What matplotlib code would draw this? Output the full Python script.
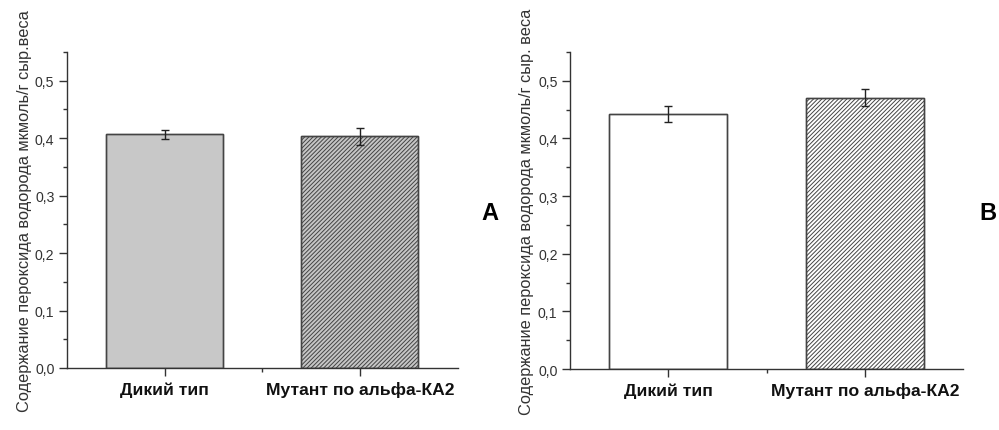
import numpy as np
import matplotlib.pyplot as plt
from matplotlib.ticker import MultipleLocator, FuncFormatter

plt.rcParams['font.family'] = ['Liberation Sans', 'DejaVu Sans']
plt.rcParams['hatch.linewidth'] = 0.7

categories = ["Дикий тип", "Мутант по альфа-КА2"]

# panel A
vals_a = [0.407, 0.403]
err_a = [0.008, 0.015]
# panel B
vals_b = [0.442, 0.471]
err_b = [0.014, 0.0145]

ylabels = ["Содержание пероксида водорода мкмоль/г сыр.веса",
           "Содержание пероксида водорода мкмоль/г сыр. веса"]
panel_names = ["A", "B"]

fig = plt.figure(figsize=(9.99, 4.31), dpi=100)
ax_a = fig.add_axes([0.067, 0.1439, 0.391, 0.733])
ax_b = fig.add_axes([0.5706, 0.1415, 0.3934, 0.7355])

styles = [
    [dict(facecolor="#c8c8c8", hatch=None, hc="#555555"),
     dict(facecolor="#c6c6c6", hatch="////////", hc="#777777")],
    [dict(facecolor="white", hatch=None, hc="#555555"),
     dict(facecolor="white", hatch="////////", hc="#8e8e8e")],
]
label_x = [-0.09, -0.092]

x = np.array([1, 2])
for i, (ax, vals, errs) in enumerate([(ax_a, vals_a, err_a), (ax_b, vals_b, err_b)]):
    for j in range(2):
        st = styles[i][j]
        plt.rcParams['hatch.color'] = st["hc"]
        ax.bar(x[j], vals[j], width=0.6, color=st["facecolor"], edgecolor="#444444",
               linewidth=1.0, hatch=st["hatch"], zorder=2)
        # redraw edge so hatch colour does not tint it
        ax.bar(x[j], vals[j], width=0.6, fill=False, edgecolor="#444444",
               linewidth=1.0, zorder=3)
    ax.errorbar(x, vals, yerr=errs, fmt="none", ecolor="#222222", elinewidth=1.0,
                capsize=3, capthick=1.0, zorder=4)
    ax.set_xlim(0.5, 2.5)
    ax.set_ylim(0, 0.55)
    ax.spines["top"].set_visible(False)
    ax.spines["right"].set_visible(False)
    for s in ["left", "bottom"]:
        ax.spines[s].set_color("#333333")
        ax.spines[s].set_linewidth(1.0)
    ax.yaxis.set_major_locator(MultipleLocator(0.1))
    ax.yaxis.set_minor_locator(MultipleLocator(0.05))
    ax.yaxis.set_major_formatter(FuncFormatter(lambda v, p: f"{v:.1f}".replace(".", ",")))
    ax.set_xticks(x)
    ax.set_xticks([1.5], minor=True)
    ax.set_xticklabels(categories, fontweight="bold", fontsize=12.6, color="#111111",
                       va="baseline")
    ax.tick_params(axis="both", which="major", direction="out", length=6, width=1.0,
                   color="#333333", labelcolor="#333333")
    ax.tick_params(axis="x", which="major", labelcolor="#111111", pad=13)
    ax.tick_params(axis="y", which="major", labelsize=10.2, pad=3)
    ax.tick_params(axis="both", which="minor", direction="out", length=3, width=1.0,
                   color="#333333")
    ax.set_ylabel(ylabels[i], fontsize=11.8, color="#333333")
    ax.yaxis.set_label_coords(label_x[i], 0.5)

fig.text(0.49, 0.505, panel_names[0], fontsize=17, fontweight="bold", ha="center", va="center")
fig.text(0.989, 0.505, panel_names[1], fontsize=17, fontweight="bold", ha="center", va="center")

fig.savefig("out.png", dpi=100)
